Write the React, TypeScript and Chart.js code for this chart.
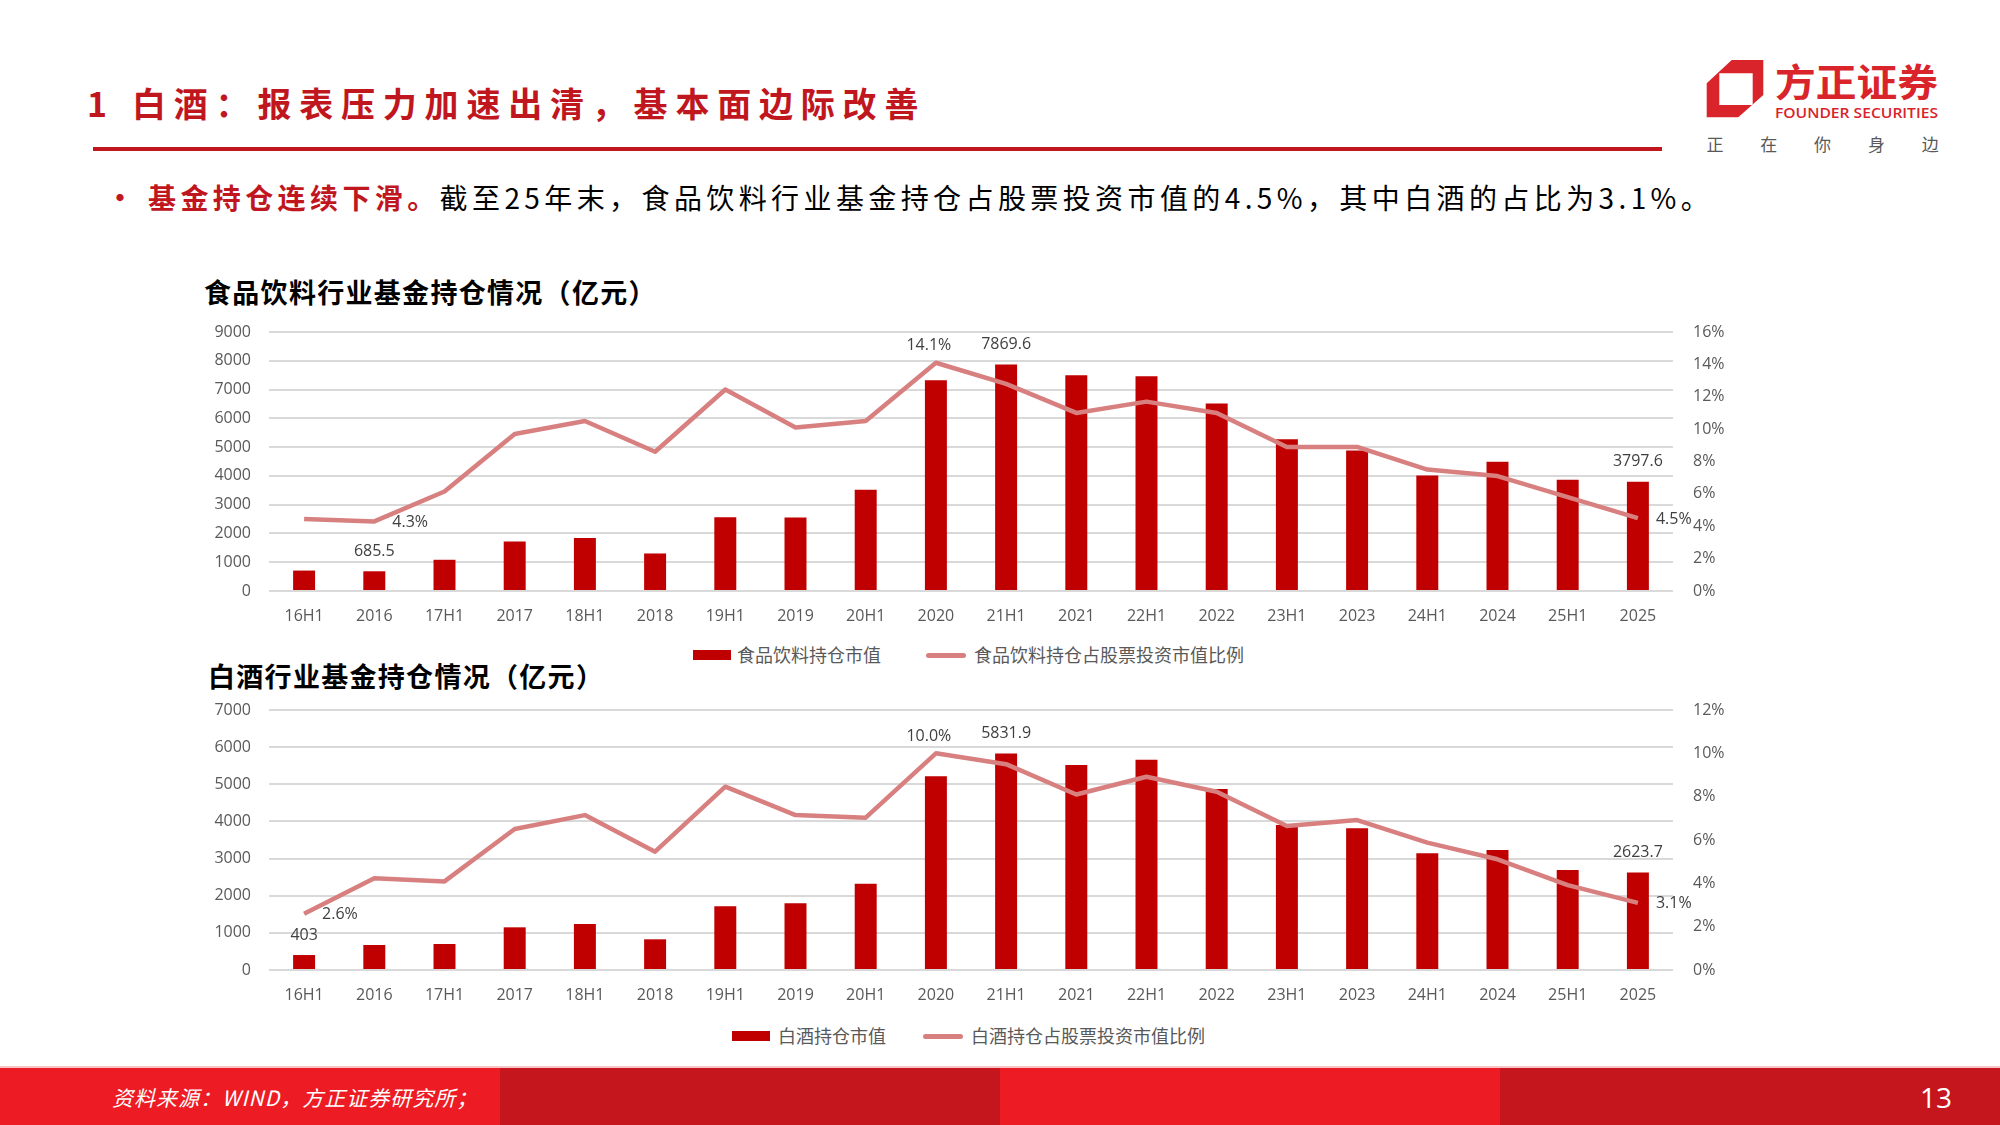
import React, { useEffect, useRef } from "react";
import { Chart, registerables } from "chart.js";

Chart.register(...registerables);

// Reporting periods shared by both charts
const periods = [
  "16H1", "2016", "17H1", "2017", "18H1", "2018", "19H1", "2019", "20H1", "2020",
  "21H1", "2021", "22H1", "2022", "23H1", "2023", "24H1", "2024", "25H1", "2025",
];

// 食品饮料：基金持仓市值（亿元）
const foodHoldings = [
  710, 685.5, 1085, 1719, 1846, 1304, 2561, 2550, 3519, 7327,
  7869.6, 7500, 7465, 6519, 5273, 4881, 4015, 4488, 3865, 3797.6,
];
// 食品饮料：持仓占股票投资市值比例（%）
const foodShare = [
  4.45, 4.3, 6.15, 9.7, 10.5, 8.6, 12.45, 10.1, 10.5, 14.1,
  12.8, 11.0, 11.7, 11.0, 8.9, 8.9, 7.5, 7.1, 5.8, 4.5,
];

// 白酒：基金持仓市值（亿元）
const liquorHoldings = [
  403, 673, 700, 1149, 1238, 826, 1714, 1795, 2324, 5214,
  5831.9, 5519, 5663, 4873, 3904, 3814, 3141, 3231, 2692, 2623.7,
];
// 白酒：持仓占股票投资市值比例（%）
const liquorShare = [
  2.6, 4.23, 4.09, 6.51, 7.15, 5.46, 8.46, 7.15, 7.03, 10.0,
  9.5, 8.1, 8.92, 8.23, 6.65, 6.92, 5.88, 5.11, 3.92, 3.1,
];

// Axis ranges: [min, max, step]
const foodValueAxis = [0, 9000, 1000];
const foodShareAxis = [0, 16, 2];
const liquorValueAxis = [0, 7000, 1000];
const liquorShareAxis = [0, 12, 2];

// Which points carry a value label
const foodBarLabelIdx = [1, 10, 19];
const foodShareLabels: [number, string][] = [[1, "right"], [9, "above"], [19, "right"]];
const liquorBarLabelIdx = [0, 10, 19];
const liquorShareLabels: [number, string][] = [[0, "right"], [9, "above"], [19, "right"]];

const BAR_COLOR = "#C00000";
const LINE_COLOR = "#D88080";
const AXIS_TEXT = "#595959";
const LABEL_TEXT = "#404040";
const LATIN = "'Open Sans', 'Noto Sans CJK SC', sans-serif";
const CJK = "'Noto Sans CJK SC', 'Noto Sans', sans-serif";

// Draws the selected value labels next to bars / line points
const valueLabels = {
  id: "valueLabels",
  afterDatasetsDraw(chart: any, _args: any, opts: any) {
    const ctx = chart.ctx;
    ctx.save();
    ctx.font = `16px ${LATIN}`;
    ctx.fillStyle = LABEL_TEXT;
    ctx.textBaseline = "middle";
    const barMeta = chart.getDatasetMeta(1);
    const lineMeta = chart.getDatasetMeta(0);
    const bars = chart.data.datasets[1].data;
    const shares = chart.data.datasets[0].data;
    for (const i of opts.barIdx as number[]) {
      const el = barMeta.data[i];
      ctx.textAlign = "center";
      ctx.fillText(String(bars[i]), el.x, el.y - 20);
    }
    for (const [i, place] of opts.lineIdx as [number, string][]) {
      const el = lineMeta.data[i];
      const text = Number(shares[i]).toFixed(1) + "%";
      if (place === "above") {
        ctx.textAlign = "center";
        ctx.fillText(text, el.x - 7, el.y - 17);
      } else {
        ctx.textAlign = "left";
        ctx.fillText(text, el.x + 18, el.y + 1);
      }
    }
    ctx.restore();
  },
};

type ComboProps = {
  top: number;
  padTop: number;
  axisHeight: number;
  bars: number[];
  shares: number[];
  valueAxis: number[];
  shareAxis: number[];
  barIdx: number[];
  lineIdx: [number, string][];
  barName: string;
  lineName: string;
};

const CANVAS_LEFT = 180;
const CANVAS_W = 1560;
const CANVAS_H = 320;

// Fixes a vertical axis to a given width and drops its label overhang padding
const fixVertical = (width: number) => (s: any) => {
  s.width = width;
  s.paddingTop = 0;
  s.paddingBottom = 0;
};

function ComboChart(p: ComboProps) {
  const ref = useRef<HTMLCanvasElement>(null);
  useEffect(() => {
    const tickFont = { family: LATIN, size: 16 };
    const chart = new Chart(ref.current as HTMLCanvasElement, {
      type: "bar",
      data: {
        labels: periods,
        datasets: [
          {
            type: "line",
            label: p.lineName,
            data: p.shares,
            yAxisID: "y1",
            borderColor: LINE_COLOR,
            backgroundColor: LINE_COLOR,
            borderWidth: 4.5,
            pointRadius: 0,
            tension: 0,
            borderJoinStyle: "round",
            order: 0,
          } as any,
          {
            type: "bar",
            label: p.barName,
            data: p.bars,
            yAxisID: "y",
            backgroundColor: BAR_COLOR,
            categoryPercentage: 1,
            barPercentage: 0.313,
            order: 1,
          } as any,
        ],
      },
      options: {
        responsive: false,
        animation: false,
        layout: { padding: { top: p.padTop, left: 0, right: 0, bottom: 0 } },
        plugins: {
          legend: { display: false },
          tooltip: { enabled: false },
          valueLabels: { barIdx: p.barIdx, lineIdx: p.lineIdx },
        } as any,
        scales: {
          x: {
            grid: { display: false },
            border: { display: false },
            ticks: { color: AXIS_TEXT, font: tickFont, padding: 8, maxRotation: 0, autoSkip: false },
            afterFit: (s: any) => { s.height = p.axisHeight; },
          },
          y: {
            position: "left",
            min: p.valueAxis[0],
            max: p.valueAxis[1],
            ticks: {
              stepSize: p.valueAxis[2],
              color: AXIS_TEXT,
              font: tickFont,
              padding: 18,
              callback: (v: any) => String(v),
            },
            grid: { color: "#D9D9D9", lineWidth: 2, drawTicks: false },
            border: { display: false },
            afterFit: fixVertical(89),
          },
          y1: {
            position: "right",
            min: p.shareAxis[0],
            max: p.shareAxis[1],
            ticks: {
              stepSize: p.shareAxis[2],
              color: AXIS_TEXT,
              font: tickFont,
              padding: 20,
              callback: (v: any) => `${v}%`,
            },
            grid: { display: false, drawTicks: false },
            border: { display: false },
            afterFit: fixVertical(67),
          },
        },
      } as any,
      plugins: [valueLabels],
    });
    return () => chart.destroy();
  }, []);
  return (
    <canvas
      ref={ref}
      width={CANVAS_W}
      height={CANVAS_H}
      style={{ position: "absolute", left: CANVAS_LEFT, top: p.top, width: CANVAS_W, height: CANVAS_H }}
    />
  );
}

function Text(props: { x: number; y: number; children: React.ReactNode; style?: React.CSSProperties }) {
  return (
    <div
      style={{
        position: "absolute",
        left: props.x,
        top: props.y,
        transform: "translateY(-50%)",
        whiteSpace: "nowrap",
        lineHeight: 1.2,
        fontFamily: CJK,
        ...props.style,
      }}
    >
      {props.children}
    </div>
  );
}

function Legend(props: { y: number; barX: number; barTextX: number; lineX: number; lineTextX: number; barName: string; lineName: string }) {
  const txt: React.CSSProperties = { fontSize: 18, color: AXIS_TEXT };
  return (
    <>
      <div style={{ position: "absolute", left: props.barX, top: props.y - 5, width: 38, height: 10, background: BAR_COLOR }} />
      <Text x={props.barTextX} y={props.y} style={txt}>{props.barName}</Text>
      <div style={{ position: "absolute", left: props.lineX, top: props.y - 2.5, width: 40, height: 5, borderRadius: 2.5, background: LINE_COLOR }} />
      <Text x={props.lineTextX} y={props.y} style={txt}>{props.lineName}</Text>
    </>
  );
}

function Logo() {
  const red = "#D9242B";
  return (
    <svg
      width={260}
      height={105}
      style={{ position: "absolute", left: 1700, top: 55 }}
      viewBox="0 0 260 105"
    >
      <path
        d="M6.7 28.3 L31.7 5 L63.3 5 L63.3 40 L38.3 62.3 L6.7 62.3 Z M19.3 18.3 L19.3 50 L52.7 50 L52.7 18.3 Z"
        fill={red}
        fillRule="evenodd"
      />
      <text
        x={75}
        y={24.5}
        dominantBaseline="central"
        fontFamily={CJK}
        fontWeight={700}
        fontSize={38}
        fill={red}
        textLength={163}
        lengthAdjust="spacingAndGlyphs"
      >
        方正证券
      </text>
      <text
        x={75}
        y={57}
        dominantBaseline="central"
        fontFamily="'Open Sans', sans-serif"
        fontWeight={600}
        fontSize={14}
        fill={red}
        textLength={163}
        lengthAdjust="spacingAndGlyphs"
      >
        FOUNDER SECURITIES
      </text>
      {["正", "在", "你", "身", "边"].map((c, i) => (
        <text
          key={c}
          x={15 + i * 53.8}
          y={88}
          textAnchor="middle"
          dominantBaseline="central"
          fontFamily={CJK}
          fontSize={17}
          fill="#595959"
        >
          {c}
        </text>
      ))}
    </svg>
  );
}

export default function App() {
  const footerBlocks = ["#ED1C24", "#C4161C", "#ED1C24", "#C4161C"];
  return (
    <div
      style={{
        position: "absolute",
        left: 0,
        top: 0,
        width: 2000,
        height: 1125,
        background: "#FFFFFF",
        overflow: "hidden",
        fontFamily: CJK,
      }}
    >
      {/* Page header */}
      <Text x={87} y={103} style={{ fontSize: 34, fontWeight: 700, color: "#C0161E" }}>1</Text>
      <Text x={132} y={103} style={{ fontSize: 34, fontWeight: 700, color: "#C0161E", letterSpacing: 7.8 }}>
        白酒：报表压力加速出清，基本面边际改善
      </Text>
      <div style={{ position: "absolute", left: 93, top: 147, width: 1569, height: 4, background: "#C0161E" }} />
      <Logo />

      <Text x={103} y={197} style={{ fontSize: 34, color: "#C0161E" }}>•</Text>
      <Text x={148} y={198} style={{ fontSize: 28, letterSpacing: 4.4, color: "#000000" }}>
        <span style={{ color: "#C0161E", fontWeight: 700 }}>基金持仓连续下滑。</span>
        截至25年末，食品饮料行业基金持仓占股票投资市值的4.5%，其中白酒的占比为3.1%。
      </Text>

      {/* Chart 1 */}
      <Text x={204} y={292} style={{ fontSize: 27, fontWeight: 700, letterSpacing: 1.3, color: "#000" }}>
        食品饮料行业基金持仓情况（亿元）
      </Text>
      <ComboChart
        top={310}
        padTop={22}
        axisHeight={39}
        bars={foodHoldings}
        shares={foodShare}
        valueAxis={foodValueAxis}
        shareAxis={foodShareAxis}
        barIdx={foodBarLabelIdx}
        lineIdx={foodShareLabels}
        barName="食品饮料持仓市值"
        lineName="食品饮料持仓占股票投资市值比例"
      />
      <Legend
        y={655}
        barX={693}
        barTextX={737}
        lineX={926}
        lineTextX={974}
        barName="食品饮料持仓市值"
        lineName="食品饮料持仓占股票投资市值比例"
      />

      {/* Chart 2 */}
      <Text x={208} y={676} style={{ fontSize: 27, fontWeight: 700, letterSpacing: 1.3, color: "#000" }}>
        白酒行业基金持仓情况（亿元）
      </Text>
      <ComboChart
        top={690}
        padTop={20}
        axisHeight={40}
        bars={liquorHoldings}
        shares={liquorShare}
        valueAxis={liquorValueAxis}
        shareAxis={liquorShareAxis}
        barIdx={liquorBarLabelIdx}
        lineIdx={liquorShareLabels}
        barName="白酒持仓市值"
        lineName="白酒持仓占股票投资市值比例"
      />
      <Legend
        y={1036}
        barX={732}
        barTextX={778}
        lineX={923}
        lineTextX={971}
        barName="白酒持仓市值"
        lineName="白酒持仓占股票投资市值比例"
      />

      {/* Footer */}
      <div style={{ position: "absolute", left: 0, top: 1066, width: 2000, height: 2, background: "#F4C4C6" }} />
      {footerBlocks.map((c, i) => (
        <div key={i} style={{ position: "absolute", left: i * 500, top: 1068, width: 500, height: 57, background: c }} />
      ))}
      <Text x={112} y={1098} style={{ fontSize: 21, fontStyle: "italic", color: "#FFFFFF", letterSpacing: 1 }}>
        资料来源：WIND，方正证券研究所；
      </Text>
      <Text x={1920} y={1098} style={{ fontSize: 28, color: "#FFFFFF", fontFamily: LATIN }}>13</Text>
    </div>
  );
}
